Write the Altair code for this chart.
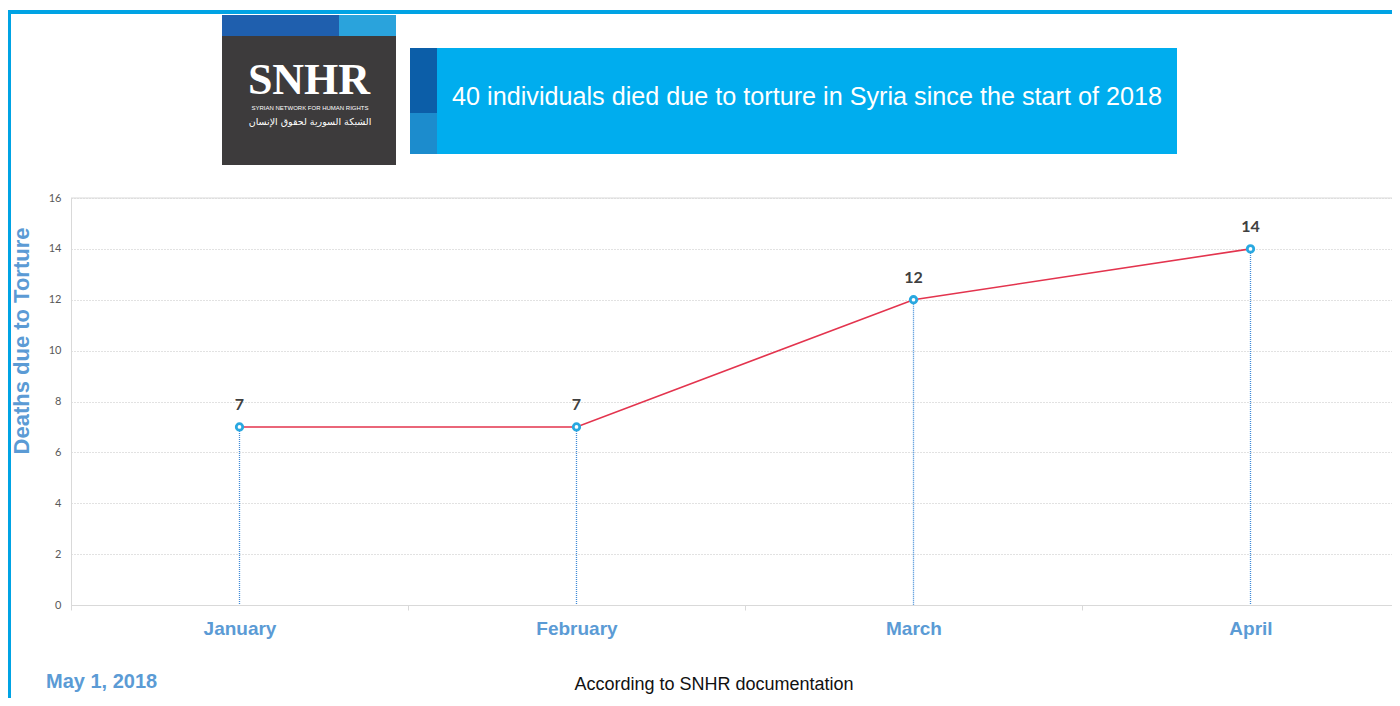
import altair as alt
import pandas as pd

months = ["January", "February", "March", "April"]
deaths = [7, 7, 12, 14]
y_ticks = [0, 2, 4, 6, 8, 10, 12, 14, 16]

title_text = "40 individuals died due to torture in Syria since the start of 2018"
y_title = "Deaths due to Torture"
date_text = "May 1, 2018"
source_text = "According to SNHR documentation"
logo_text = "SNHR"
logo_sub = "SYRIAN NETWORK FOR HUMAN RIGHTS"
logo_ar = "الشبكة السورية لحقوق الإنسان"

df = pd.DataFrame({"month": months, "deaths": deaths})

W, H = 1321, 407
BLUE_T = "#5b9bd5"

xscale = alt.Scale(type="band", domain=months, range=[0, 1348], paddingInner=0, paddingOuter=0)
yscale = alt.Scale(domain=[0, 16], nice=False)

X = alt.X("month:N", scale=xscale, sort=months, bandPosition=0.5,
          axis=alt.Axis(title=None, tickBand="extent", labelFont="Liberation Sans",
                        labelFontWeight="bold", labelFontSize=19, labelColor=BLUE_T,
                        labelPadding=9, tickSize=5, tickColor="#d9d9d9",
                        domainColor="#d9d9d9", grid=False, labelAngle=0))
Y = alt.Y("deaths:Q", scale=yscale,
          axis=alt.Axis(title=None, values=y_ticks, labelFont="Lato", labelFontSize=11,
                        labelColor="#595959", labelPadding=10, ticks=False,
                        domainColor="#d9d9d9", gridColor="#c4c4c4", gridDash=[1, 2],
                        gridWidth=1))

base = alt.Chart(df)

drops = base.mark_rule(color="#3f8ad8", strokeDash=[1, 1], strokeWidth=1.3).encode(
    x=X, y=Y, y2=alt.datum(0))
line = base.mark_line(color="#e3344e", strokeWidth=1.6).encode(x=X, y=Y)
pts = base.mark_point(shape="circle", filled=True, fill="white", stroke="#29a8e0",
                      strokeWidth=2.8, size=42, opacity=1).encode(x=X, y=Y)
labels = base.mark_text(font="Lato", fontWeight="bold", fontSize=16, color="#404040",
                        dy=-22).encode(x=X, y=Y, text="deaths:Q")

one = alt.Data(values=[{}])

top_rule = alt.Chart(one).mark_rule(color="#d9d9d9", strokeWidth=1).encode(
    y=alt.value(0), x=alt.value(0), x2=alt.value(W))


def rect(x, x2, y, y2, color):
    return alt.Chart(one).mark_rect(color=color).encode(
        x=alt.value(x), x2=alt.value(x2), y=alt.value(y), y2=alt.value(y2))


def txt(s, x, y, **kw):
    return alt.Chart(one).mark_text(**kw).encode(
        x=alt.value(x), y=alt.value(y), text=alt.value(s))


frame_top = rect(-63, W, -188, -184, "#00a3e4")
frame_left = rect(-63, -60, -188, 500, "#00a3e4")

logo_box = rect(151, 325, -183, -33, "#3d3b3c")
logo_strip1 = rect(151, 268, -183, -162, "#1f5fae")
logo_strip2 = rect(268, 325, -183, -162, "#2aa3dc")
logo_t = txt(logo_text, 238, -104, font="Liberation Serif", fontWeight="bold", fontSize=44,
             color="white", align="center", baseline="alphabetic")
logo_s = txt(logo_sub, 239, -88, font="Liberation Sans", fontSize=6, color="white",
             align="center", baseline="alphabetic")
logo_a = txt(logo_ar, 239, -73, font="DejaVu Sans", fontSize=9.5, color="white",
             align="center", baseline="alphabetic")

banner = rect(339, 1106, -150, -44, "#00adee")
banner_s1 = rect(339, 366, -150, -85, "#0c5ea8")
banner_s2 = rect(339, 366, -85, -44, "#1c8ccd")
banner_t = txt(title_text, 736, -101, font="Liberation Sans", fontSize=25.2, color="white",
               align="center", baseline="middle")

ytitle = txt(y_title, -49, 143, font="Liberation Sans", fontWeight="bold", fontSize=22,
             color=BLUE_T, align="center", baseline="middle", angle=270)

date_t = txt(date_text, -25, 484, font="Liberation Sans", fontWeight="bold", fontSize=20,
             color=BLUE_T, align="left", baseline="middle")
src_t = txt(source_text, 643, 487, font="Liberation Sans", fontSize=18, color="#111111",
            align="center", baseline="middle")

chart = alt.layer(
    drops, line, pts, labels, top_rule,
    frame_top, frame_left, logo_box, logo_strip1, logo_strip2, logo_t, logo_s, logo_a,
    banner, banner_s1, banner_s2, banner_t, ytitle, date_t, src_t,
).properties(
    width=W, height=H,
    padding={"left": 63, "top": 190, "right": 0, "bottom": 93},
    autosize=alt.AutoSizeParams(type="none"),
    background="white",
).configure_view(stroke=None)

chart.save("out.html", embed_options={"renderer": "svg", "actions": False})
